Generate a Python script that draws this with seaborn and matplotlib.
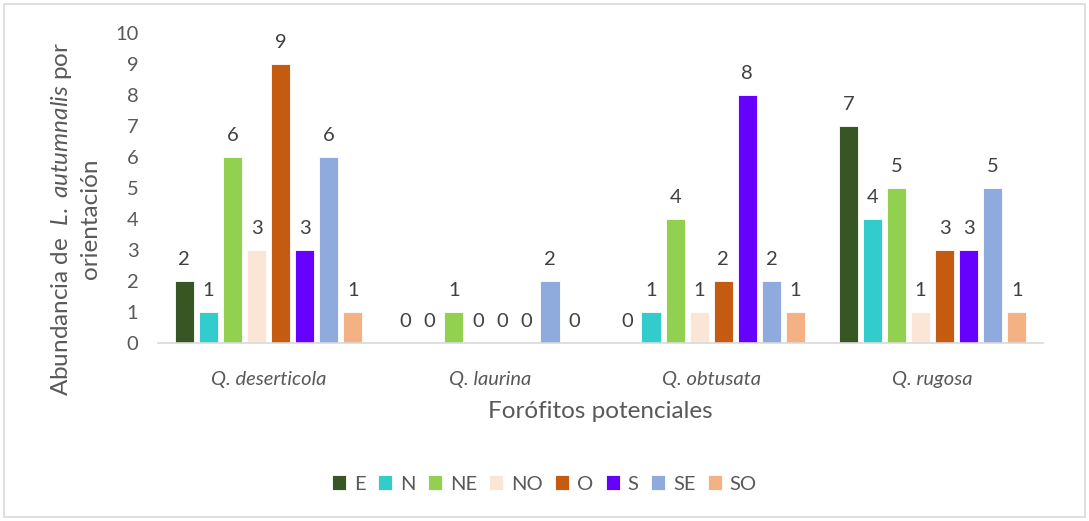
import pandas as pd
import seaborn as sns
import matplotlib.pyplot as plt
from matplotlib.patches import Rectangle

# Datos
especies = ["Q. deserticola", "Q. laurina", "Q. obtusata", "Q. rugosa"]
orientaciones = ["E", "N", "NE", "NO", "O", "S", "SE", "SO"]
E = [2, 0, 0, 7]
N = [1, 0, 1, 4]
NE = [6, 1, 4, 5]
NO = [3, 0, 1, 1]
O = [9, 0, 2, 3]
S = [3, 0, 8, 3]
SE = [6, 2, 2, 5]
SO = [1, 0, 1, 1]
colores = ["#375623", "#33CCCC", "#92D050", "#FBE5D6", "#C55A11", "#6600FF", "#8FAADC", "#F4B183"]

valores = {"E": E, "N": N, "NE": NE, "NO": NO, "O": O, "S": S, "SE": SE, "SO": SO}
filas = []
for o in orientaciones:
    for esp, v in zip(especies, valores[o]):
        filas.append({"Especie": esp, "Orientacion": o, "Abundancia": v})
df = pd.DataFrame(filas)

sns.set_theme(style="white")
plt.rcParams["font.family"] = ["Lato", "DejaVu Sans"]
plt.rcParams["mathtext.fontset"] = "custom"
plt.rcParams["mathtext.rm"] = "Lato"
plt.rcParams["mathtext.it"] = "Lato:italic"

gris = "#595959"
fig = plt.figure(figsize=(10.89, 5.21), dpi=100)
ax = fig.add_axes([0.145, 0.342, 0.813, 0.595])

sns.barplot(data=df, x="Especie", y="Abundancia", hue="Orientacion",
            order=especies, hue_order=orientaciones, palette=colores,
            width=0.87, gap=0.2, edgecolor="white", linewidth=0.6,
            saturation=1, ax=ax, legend=True)

for c in ax.containers:
    ax.bar_label(c, padding=9.5, fontsize=14.5, color="#404040")

ax.set_ylim(0, 10)
ax.set_yticks(range(0, 11))
ax.tick_params(axis="both", length=0, labelsize=14.5, labelcolor=gris)
ax.tick_params(axis="y", pad=14)
ax.tick_params(axis="x", pad=20.5)
for t in ax.get_xticklabels():
    t.set_style("italic")

for s in ["top", "right", "left"]:
    ax.spines[s].set_visible(False)
ax.spines["bottom"].set_color("#D9D9D9")
ax.spines["bottom"].set_linewidth(1.2)

ax.set_xlabel("Forófitos potenciales", fontsize=17.5, color=gris, labelpad=9.5)
ax.set_ylabel("Abundancia de  $L.\\ autumnalis$ por\norientación",
              fontsize=17.5, color=gris, labelpad=10, linespacing=1.35)
ax.yaxis.label.set_y(0.4)

ax.legend(loc="center", bbox_to_anchor=(0.5, 0.071), bbox_transform=fig.transFigure,
          ncol=8, frameon=False, fontsize=14.5, handlelength=0.7, handleheight=0.7,
          handletextpad=0.4, columnspacing=0.6, labelcolor=gris)

fig.patches.append(Rectangle((0.004, 0.008), 0.992, 0.984, transform=fig.transFigure,
                             fill=False, edgecolor="#D9D9D9", linewidth=1.2))

plt.savefig("out.png", dpi=100)
